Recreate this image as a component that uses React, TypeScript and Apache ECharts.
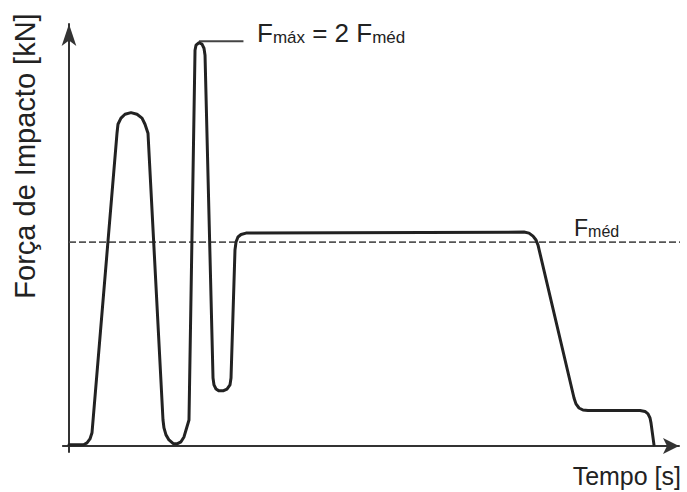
import React, { useEffect, useRef } from "react";
import * as echarts from "echarts";

// Impact force curve, time in arbitrary units (0..100), force in units of F_méd
const timeValues = [
  0.0, 1.8, 2.46, 2.95, 3.44, 3.77, 7.87, 8.03, 8.52, 9.18, 10.16, 11.15, 11.97, 12.46, 12.95,
  15.41, 15.57, 15.9, 16.39, 17.05, 17.7, 18.36, 18.85, 19.67, 20.66, 20.82, 21.31, 21.8, 22.13,
  22.3, 23.61, 23.77, 24.1, 24.59, 25.25, 25.9, 26.39, 26.56, 27.21, 27.38, 27.7, 28.2, 29.02,
  74.59, 75.41, 76.07, 76.56, 76.89, 82.79, 83.11, 83.61, 84.26, 85.08, 93.61, 94.43, 94.92,
  95.25, 95.41, 95.9,
];
const forceValues = [
  0.005, 0.005, 0.007, 0.015, 0.034, 0.064, 1.534, 1.578, 1.608, 1.627, 1.635, 1.627, 1.608,
  1.578, 1.534, 0.127, 0.088, 0.054, 0.029, 0.012, 0.01, 0.02, 0.044, 0.127, 1.941, 1.966, 1.978,
  1.971, 1.951, 1.917, 0.333, 0.299, 0.279, 0.27, 0.27, 0.279, 0.299, 0.333, 0.961, 1.0, 1.025,
  1.037, 1.044, 1.049, 1.044, 1.029, 1.01, 0.985, 0.235, 0.206, 0.186, 0.176, 0.174, 0.174, 0.169,
  0.157, 0.137, 0.113, 0.005,
];
const fMed = 1;
const fMaxLeaderX = [21.3, 28.6];
const fMaxLeaderY = 1.985;
const medLineX = [0, 101.3];

const axisTitleY = "Força de Impacto [kN]";
const axisTitleX = "Tempo [s]";

const FONT = "'Liberation Sans', Arial, Helvetica, sans-serif";
const INK = "#222";

export default function App() {
  const ref = useRef<HTMLDivElement>(null);

  useEffect(() => {
    if (!ref.current) return;
    const chart = echarts.init(ref.current, null, { renderer: "svg" });
    const curve = timeValues.map((t, i) => [t, forceValues[i]]);
    const option: any = {
      animation: false,
      backgroundColor: "#fff",
      grid: { left: 62.9, right: 8, top: 24, bottom: 40 },
      xAxis: {
        type: "value",
        min: -1,
        max: 100,
        axisLine: {
          onZero: true,
          lineStyle: { color: "#333", width: 2 },
          symbol: ["none", "arrow"],
          symbolSize: [12, 16],
        },
        axisTick: { show: false },
        axisLabel: { show: false },
        splitLine: { show: false },
      },
      yAxis: {
        type: "value",
        min: -0.03,
        max: 2.07,
        axisLine: {
          show: true,
          onZero: true,
          lineStyle: { color: "#333", width: 2 },
          symbol: ["none", "arrow"],
          symbolSize: [11, 22],
        },
        axisTick: { show: false },
        axisLabel: { show: false },
        splitLine: { show: false },
      },
      series: [
        {
          name: "F_méd",
          type: "line",
          data: medLineX.map((t) => [t, fMed]),
          showSymbol: false,
          clip: false,
          lineStyle: { color: "#555", width: 1.8, type: [7, 3] },
          z: 1,
        },
        {
          name: "F_máx",
          type: "line",
          data: fMaxLeaderX.map((t) => [t, fMaxLeaderY]),
          showSymbol: false,
          lineStyle: { color: "#444", width: 2 },
          z: 2,
        },
        {
          name: "Força",
          type: "line",
          data: curve,
          showSymbol: false,
          smooth: false,
          lineStyle: { color: INK, width: 3, join: "round", cap: "round" },
          z: 3,
        },
      ],
      graphic: [
        {
          type: "text",
          x: 25,
          y: 156,
          rotation: Math.PI / 2,
          style: {
            text: axisTitleY,
            fontFamily: FONT,
            fontSize: 29,
            fill: INK,
            align: "center",
            verticalAlign: "middle",
          },
        },
        {
          type: "text",
          x: 681,
          y: 476,
          style: {
            text: axisTitleX,
            fontFamily: FONT,
            fontSize: 25,
            fill: INK,
            align: "right",
            verticalAlign: "middle",
          },
        },
        {
          type: "text",
          x: 257,
          y: 46,
          style: {
            text: "{a|F}{b|máx}{a| = 2 F}{b|méd}",
            fontFamily: FONT,
            fill: INK,
            align: "left",
            verticalAlign: "bottom",
            rich: {
              a: { fontSize: 26, fontFamily: FONT, fill: INK, verticalAlign: "bottom", lineHeight: 26 },
              b: { fontSize: 17, fontFamily: FONT, fill: INK, verticalAlign: "bottom", lineHeight: 17 },
            },
          },
        },
        {
          type: "text",
          x: 574,
          y: 239,
          style: {
            text: "{a|F}{b|méd}",
            fontFamily: FONT,
            fill: INK,
            align: "left",
            verticalAlign: "bottom",
            rich: {
              a: { fontSize: 23, fontFamily: FONT, fill: INK, verticalAlign: "bottom", lineHeight: 23 },
              b: { fontSize: 16, fontFamily: FONT, fill: INK, verticalAlign: "bottom", lineHeight: 16 },
            },
          },
        },
      ],
    };
    chart.setOption(option);
    return () => chart.dispose();
  }, []);

  return (
    <div
      ref={ref}
      style={{ position: "absolute", left: 0, top: 0, width: 687, height: 492, background: "#fff" }}
    />
  );
}
